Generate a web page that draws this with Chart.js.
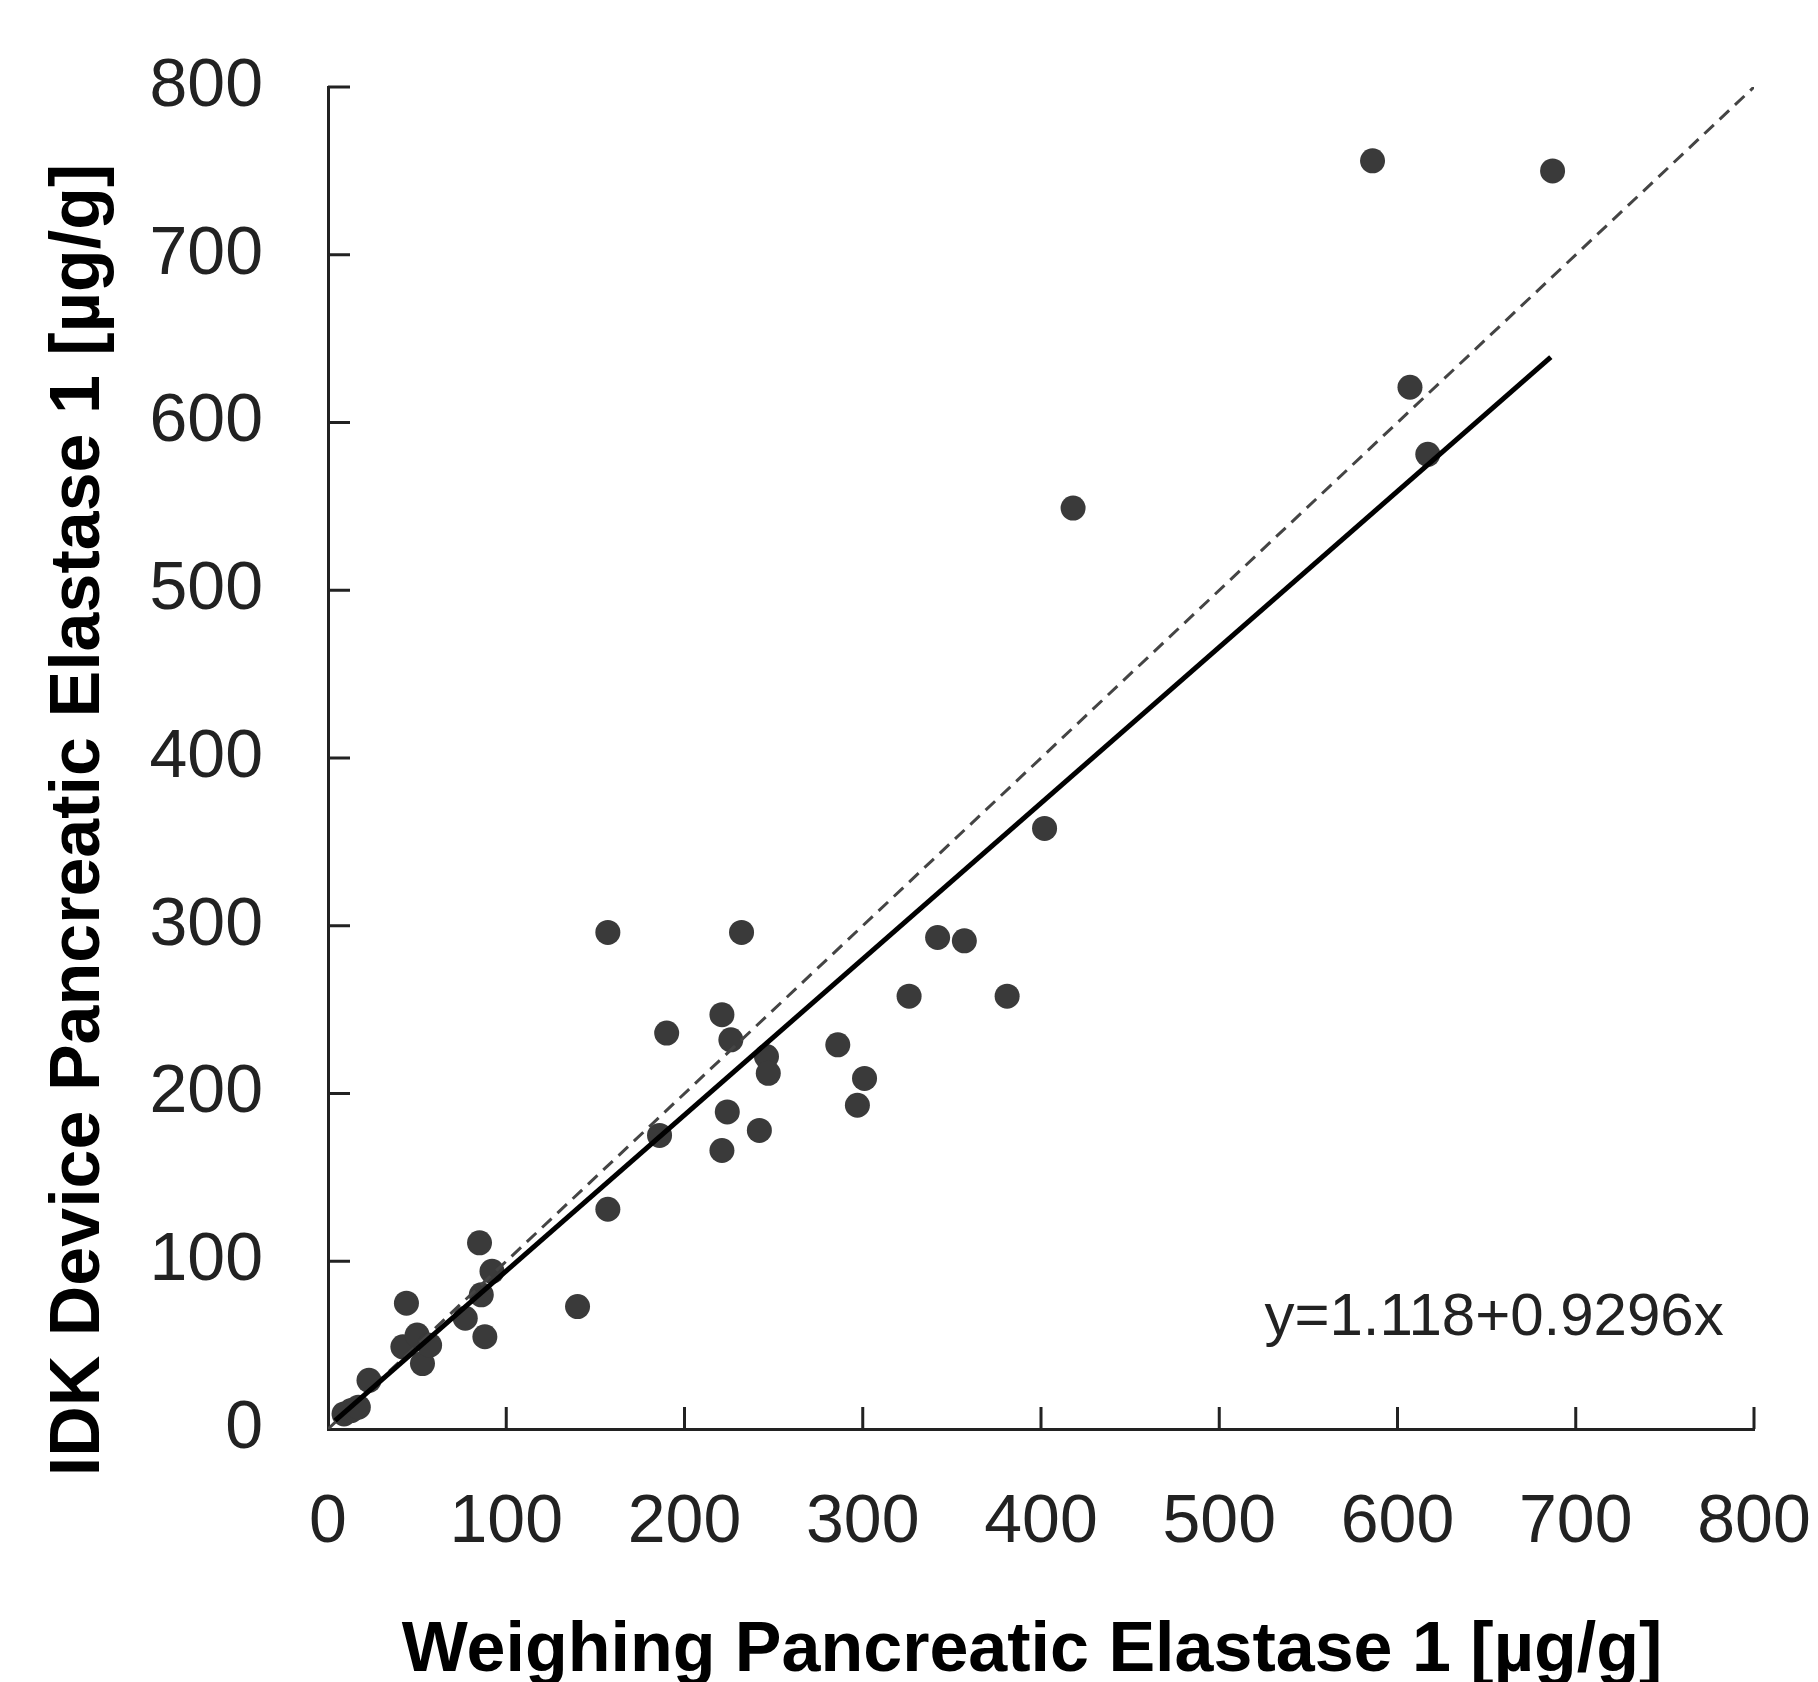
<!DOCTYPE html>
<html>
<head>
<meta charset="utf-8">
<script src="https://cdn.jsdelivr.net/npm/chart.js@4/dist/chart.umd.min.js"></script>
<style>
  html, body { margin: 0; padding: 0; background: #fff; }
  #wrap { width: 1818px; height: 1682px; position: relative; }
</style>
</head>
<body>
<div id="wrap"><canvas id="elastaseChart"></canvas></div>
<script>
// ==========================
// DATA
// ==========================
const weighingX = [9, 13, 17, 23, 42, 44, 50, 53, 57, 77, 85, 86, 88, 92, 140, 157, 157, 186, 190, 221,
  221, 224, 226, 232, 242, 246, 247, 286, 297, 301, 326, 342, 357, 381, 402, 418, 586, 607, 617, 687];
const idkY = [9, 11, 13, 29, 49, 75, 56, 39, 50, 66, 111, 80, 55, 94, 73, 131, 296, 175, 236, 247,
  166, 189, 232, 296, 178, 222, 212, 229, 193, 209, 258, 293, 291, 258, 358, 549, 756, 621, 581, 750];

const fitX = [4, 686];
const fitY = [5, 639];
const identityX = [0, 800];
const identityY = [0, 800];

const tickValues = [0, 100, 200, 300, 400, 500, 600, 700, 800];

const xTitle = "Weighing Pancreatic Elastase 1 [µg/g]";
const yTitle = "IDK Device Pancreatic Elastase 1 [µg/g]";
const equationText = "y=1.118+0.9296x";
const equationAt = { x: 783, y: 66 };

const toPoints = (xs, ys) => xs.map((x, i) => ({ x: x, y: ys[i] }));

// ==========================
// PLUGIN: inward ticks, titles, equation
// ==========================
const extrasPlugin = {
  id: "extras",
  afterDraw(chart) {
    const ctx = chart.ctx;
    const xs = chart.scales.x;
    const ys = chart.scales.y;
    const area = chart.chartArea;

    ctx.save();
    ctx.strokeStyle = "#222";
    ctx.lineWidth = 3;
    ctx.beginPath();
    xs.ticks.forEach(t => {
      const px = xs.getPixelForValue(t.value);
      if (t.value === 0) return;
      ctx.moveTo(px, area.bottom);
      ctx.lineTo(px, area.bottom - 22);
    });
    ys.ticks.forEach(t => {
      const py = ys.getPixelForValue(t.value);
      if (t.value === 0) return;
      ctx.moveTo(area.left, py);
      ctx.lineTo(area.left + 22, py);
    });
    ctx.stroke();

    // equation
    ctx.fillStyle = "#222";
    ctx.font = "60px 'Liberation Sans', Arial, sans-serif";
    ctx.textAlign = "right";
    ctx.textBaseline = "middle";
    ctx.fillText(equationText, xs.getPixelForValue(equationAt.x), ys.getPixelForValue(equationAt.y));

    // axis titles
    ctx.fillStyle = "#000";
    ctx.font = "bold 70px 'Liberation Sans', Arial, sans-serif";
    ctx.textAlign = "center";
    ctx.textBaseline = "alphabetic";
    ctx.fillText(xTitle, 1032, 1671);

    ctx.translate(99, 820);
    ctx.rotate(-Math.PI / 2);
    ctx.fillText(yTitle, 0, 0);
    ctx.restore();
  }
};

// ==========================
// CHART
// ==========================
const tickFont = { family: "'Liberation Sans', Arial, sans-serif", size: 68 };

new Chart(document.getElementById("elastaseChart"), {
  type: "scatter",
  data: {
    datasets: [
      {
        label: "Regression",
        data: toPoints(fitX, fitY),
        showLine: true,
        borderColor: "#000",
        borderWidth: 5,
        pointRadius: 0
      },
      {
        label: "Identity",
        data: toPoints(identityX, identityY),
        showLine: true,
        borderColor: "#444",
        borderWidth: 3,
        borderDash: [13, 8],
        pointRadius: 0
      },
      {
        label: "Samples",
        data: toPoints(weighingX, idkY),
        backgroundColor: "#3a3a3a",
        borderWidth: 0,
        pointRadius: 12.5
      }
    ]
  },
  options: {
    responsive: true,
    maintainAspectRatio: false,
    animation: false,
    layout: { padding: { top: 87, right: 64, bottom: 0, left: 0 } },
    plugins: {
      legend: { display: false },
      tooltip: { enabled: false }
    },
    scales: {
      x: {
        type: "linear",
        min: 0,
        max: 800,
        afterBuildTicks: s => { s.ticks = tickValues.map(v => ({ value: v })); },
        afterFit: s => { s.height = 253; s.paddingLeft = 0; s.paddingRight = 0; },
        grid: { display: false, drawTicks: false },
        border: { display: true, color: "#222", width: 3 },
        ticks: { color: "#222", font: tickFont, padding: 53, maxRotation: 0, autoSkip: false }
      },
      y: {
        type: "linear",
        min: 0,
        max: 800,
        afterBuildTicks: s => { s.ticks = tickValues.map(v => ({ value: v })); },
        afterFit: s => { s.width = 328; s.paddingTop = 0; s.paddingBottom = 0; },
        grid: { display: false, drawTicks: false },
        border: { display: true, color: "#222", width: 3 },
        ticks: { color: "#222", font: tickFont, padding: 65, autoSkip: false }
      }
    }
  },
  plugins: [extrasPlugin]
});
</script>
</body>
</html>
